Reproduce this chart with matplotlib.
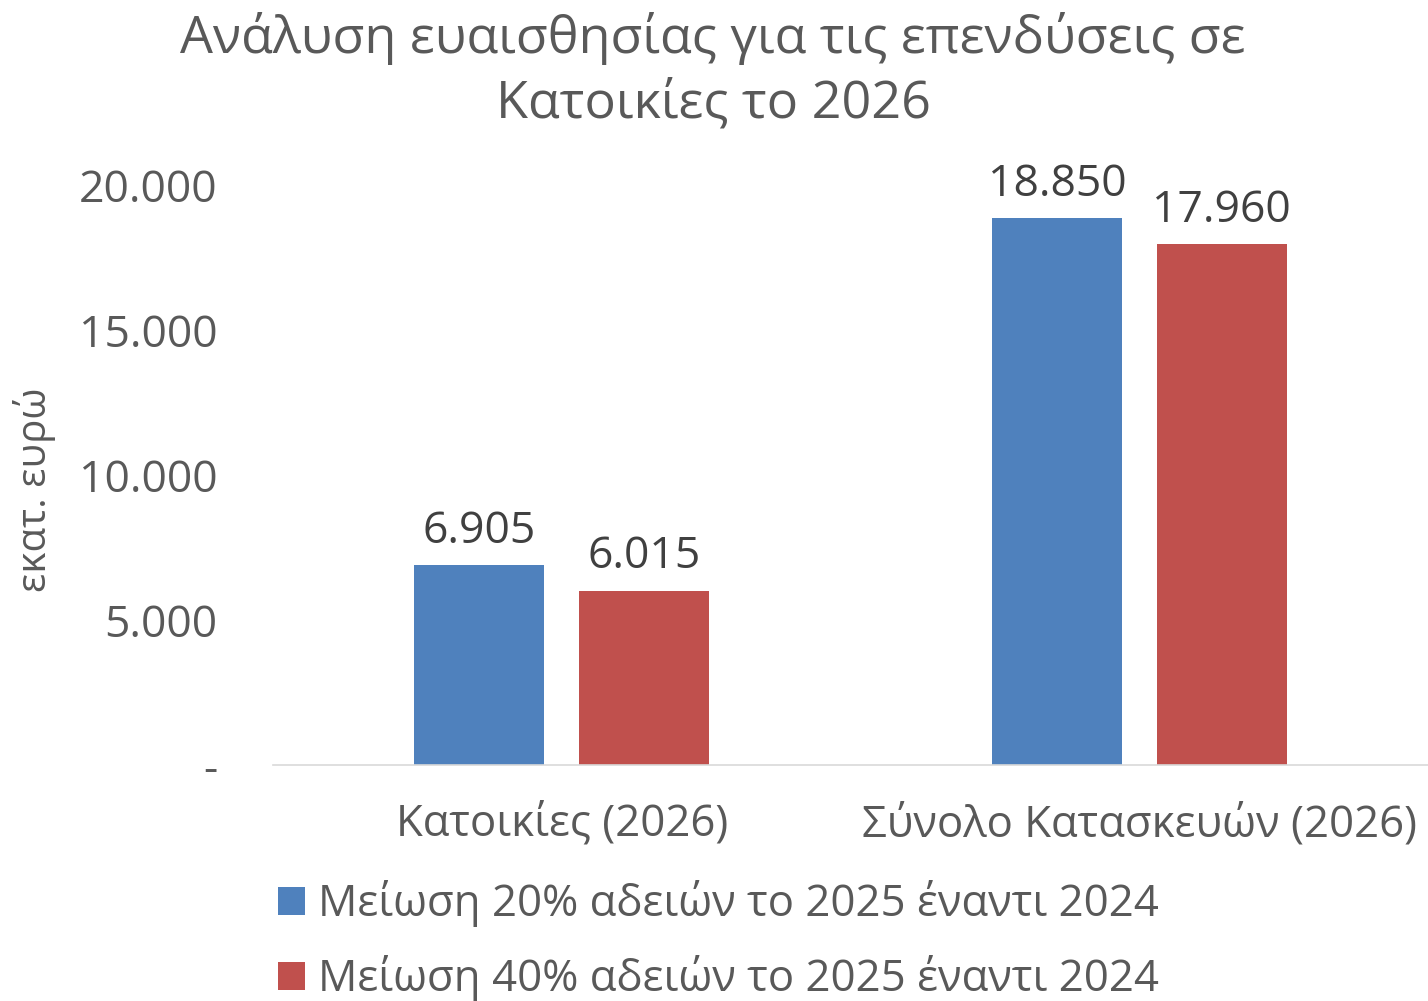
import matplotlib.pyplot as plt
import numpy as np

categories = ["Κατοικίες (2026)", "Σύνολο Κατασκευών (2026)"]
series_names = ["Μείωση 20% αδειών το 2025 έναντι 2024",
                "Μείωση 40% αδειών το 2025 έναντι 2024"]
values_20 = [6905, 18850]
values_40 = [6015, 17960]
yticks = [0, 5000, 10000, 15000, 20000]
ytick_labels = ["-", "5.000", "10.000", "15.000", "20.000"]

plt.rcParams['font.family'] = ['Open Sans', 'DejaVu Sans']
grey = "#595959"

fig = plt.figure(figsize=(14.28, 10.01), dpi=100)
ax = fig.add_axes([273 / 1428, 1 - 765 / 1001, 1155 / 1428, 580 / 1001])

x = np.arange(len(categories))
w = 0.225
off = 0.1425
b1 = ax.bar(x - off, values_20, w, color="#4F81BD", label=series_names[0])
b2 = ax.bar(x + off, values_40, w, color="#C0504D", label=series_names[1])

for bars in (b1, b2):
    for r in bars:
        v = r.get_height()
        ax.annotate(f"{v:,}".replace(",", "."), (r.get_x() + r.get_width() / 2, v),
                    xytext=(0, 8), textcoords="offset points",
                    ha="center", va="bottom", fontsize=32, color="#404040")

ax.set_xlim(-0.5, 1.5)
ax.set_ylim(0, 20000)
ax.set_yticks(yticks)
ax.set_yticklabels(ytick_labels)
ax.set_xticks(x)
ax.set_xticklabels(categories)
ax.tick_params(axis="y", length=0, pad=40, labelsize=32, labelcolor=grey)
ax.tick_params(axis="x", length=0, pad=27, labelsize=31.5, labelcolor=grey)
for lab in ax.get_yticklabels():
    lab.set_horizontalalignment("right")

for s in ("top", "right", "left"):
    ax.spines[s].set_visible(False)
ax.spines["bottom"].set_color("#D9D9D9")
ax.spines["bottom"].set_linewidth(1.2)

fig.text(35 / 1428, 1 - 490 / 1001, "εκατ. ευρώ", rotation=90, ha="center",
         va="center", fontsize=29, color=grey)

fig.text(713 / 1428, 1 - 71 / 1001,
         "Ανάλυση ευαισθησίας για τις επενδύσεις σε\nΚατοικίες το 2026",
         ha="center", va="center", fontsize=37.5, color=grey, linespacing=1.32)

fig.legend(handles=[b1, b2], labels=series_names, loc="upper left",
           bbox_to_anchor=(239 / 1428, 1 - 841 / 1001), frameon=False,
           fontsize=31.5, labelcolor=grey, handlelength=0.61, handleheight=0.61,
           handletextpad=0.3, labelspacing=0.64)

fig.savefig("out.png", dpi=100)
